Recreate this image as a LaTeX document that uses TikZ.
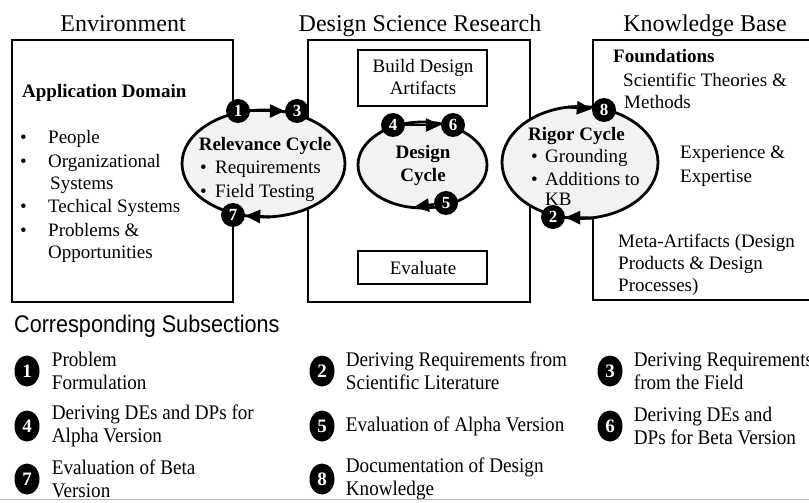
\documentclass[tikz,border=0pt]{standalone}
\usepackage{fontspec}
\setmainfont{Liberation Serif}
\newfontfamily\subsfont[FakeStretch=0.9]{Liberation Sans}
\newfontfamily\keyfont[FakeStretch=0.92]{Liberation Serif}
\usetikzlibrary{arrows.meta,positioning,shapes.geometric}

\definecolor{cyclefill}{HTML}{F2F2F2}

\newcommand{\dsrtext}{\fontsize{19}{23}\selectfont}
\newcommand{\dsrtitle}{\fontsize{24}{28}\selectfont}

\tikzset{
	frame/.style={line width=1.6pt},
	cyc/.style={line width=2.8pt, fill=cyclefill},
	flow/.style={line width=2.8pt, -{Triangle[length=15pt,width=13pt]}},
	badge/.style={circle, fill=black, text=white, minimum size=24pt, inner sep=0pt, font=\bfseries\fontsize{17}{17}\selectfont},
	keybadge/.style={ellipse, fill=black, text=white, minimum width=25pt, minimum height=31pt, inner sep=0pt, font=\bfseries\fontsize{19}{19}\selectfont},
	txt/.style={anchor=base west, inner sep=0pt, font=\dsrtext},
	ctxt/.style={anchor=base, inner sep=0pt, font=\dsrtext},
	keytxt/.style={align=left, inner sep=0pt, font=\keyfont\fontsize{20.8}{23.5}\selectfont},
}

\begin{document}
\begin{tikzpicture}[x=1pt, y=-1pt]
\useasboundingbox (0,0) rectangle (809,503);

\pgfmathsetmacro{\boxTop}{40}
\pgfmathsetmacro{\boxBot}{302}

\draw[frame] (12,\boxTop) rectangle (233,\boxBot);
\draw[frame] (308,\boxTop) rectangle (530,\boxBot);
\draw[frame] (593,\boxTop) rectangle (820,300);
\draw[frame] (358,50) rectangle (487,106);
\draw[frame] (358,251) rectangle (487,284);

\node[ctxt, font=\dsrtitle] (tenv) at (123,32) {Environment};
\node[ctxt, font=\dsrtitle] (tdsr) at (420,32) {Design Science Research};
\node[ctxt, font=\dsrtitle] (tkb) at (705,32) {Knowledge Base};

\draw[cyc] (263.5,163.5) ellipse [x radius=81.5pt, y radius=53.5pt];
\draw[cyc] (422.5,165) ellipse [x radius=64.5pt, y radius=43pt];
\draw[cyc] (580,162.5) ellipse [x radius=78pt, y radius=56pt];

\node[badge] (b1) at (238,111) {1};
\node[badge] (b3) at (297,111) {3};
\node[badge] (b7) at (233,215) {7};
\node[badge] (b4) at (393,125) {4};
\node[badge] (b6) at (453,125) {6};
\node[badge] (b5) at (446,203) {5};
\node[badge] (b8) at (604,110) {8};
\node[badge] (b2) at (553,217) {2};

\coordinate (r7) at (270,217);
\coordinate (d5) at (414,207);
\coordinate (g8) at (568,107);
\coordinate (g2) at (592,218);
\draw[flow] (b1) -- (b3);
\draw[flow] (r7) -- (b7);
\draw[flow] (b4) -- (b6);
\draw[flow] (b5) -- (d5);
\draw[flow] (g8) -- (b8);
\draw[flow] (g2) -- (b2);

% environment
\node[txt, font=\dsrtext\bfseries] (appdom) at (22,97) {Application Domain};
\foreach \y/\t in {143/People, 167/Organizational, 212/Techical Systems, 236/{Problems \&}}{
	\node[txt] (envb\y) at (20,\y) {\textbullet};
	\node[txt] (envt\y) at (48,\y) {\t};
}
\node[txt] (envsys) at (50,189) {Systems};
\node[txt] (envopp) at (48,258) {Opportunities};

% relevance cycle
\node[ctxt, font=\dsrtext\bfseries] (relcyc) at (265,150) {Relevance Cycle};
\foreach \y/\t in {173/Requirements, 197/Field Testing}{
	\node[txt] (relb\y) at (200,\y) {\textbullet};
	\node[txt] (relt\y) at (215,\y) {\t};
}

% design cycle
\node[ctxt] (build) at (423,73) {Build Design};
\node[ctxt] (artif) at (423,95) {Artifacts};
\node[ctxt, font=\dsrtext\bfseries] (descyc) at (423,158) {Design};
\node[ctxt, font=\dsrtext\bfseries] (descyc2) at (423,181) {Cycle};
\node[ctxt] (evalu) at (423,274) {Evaluate};

% rigor cycle
\node[txt, font=\dsrtext\bfseries] (rigcyc) at (528,140) {Rigor Cycle};
\foreach \y/\t in {162/Grounding, 185/Additions to}{
	\node[txt] (rigb\y) at (531,\y) {\textbullet};
	\node[txt] (rigt\y) at (545,\y) {\t};
}
\node[txt] (rigkb) at (545,205) {KB};

% knowledge base
\node[txt, font=\dsrtext\bfseries] (found) at (613,63) {Foundations};
\node[txt] (sci) at (623,86) {Scientific Theories \&};
\node[txt] (meth) at (624,109) {Methods};
\node[txt] (exp) at (680,158) {Experience \&};
\node[txt] (expt) at (680,182) {Expertise};
\node[txt] (meta) at (618,247) {Meta-Artifacts (Design};
\node[txt] (prod) at (618,269) {Products \& Design};
\node[txt] (proc) at (618,291) {Processes)};

% subsections
\node[txt, font=\subsfont\fontsize{24}{28}\selectfont] (subs) at (14,332) {Corresponding Subsections};
\foreach \n/\x/\y in {1/27/371, 2/322/371, 3/610/371, 4/27/426, 5/322/426, 6/610/426, 7/27/479, 8/322/479}
	\node[keybadge] (k\n) at (\x,\y) {\n};
\node[keytxt, right=12pt of k1] (s1) {Problem\\Formulation};
\node[keytxt, right=11pt of k2] (s2) {Deriving Requirements from\\Scientific Literature};
\node[keytxt, right=11pt of k3] (s3) {Deriving Requirements\\from the Field};
\node[keytxt, right=12pt of k4] (s4) {Deriving DEs and DPs for\\Alpha Version};
\node[keytxt, right=11pt of k5] (s5) {Evaluation of Alpha Version};
\node[keytxt, right=11pt of k6] (s6) {Deriving DEs and\\DPs for Beta Version};
\node[keytxt, right=12pt of k7] (s7) {Evaluation of Beta\\Version};
\node[keytxt, right=11pt of k8] (s8) {Documentation of Design\\Knowledge};

\draw[gray!60, line width=1pt] (0,499) -- (809,499);
\end{tikzpicture}
\end{document}
